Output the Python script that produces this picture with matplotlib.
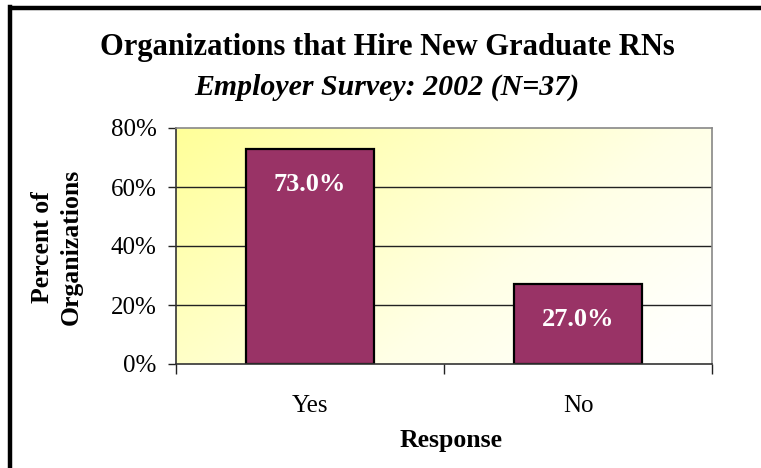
import matplotlib.pyplot as plt
import numpy as np
from matplotlib.colors import LinearSegmentedColormap

plt.rcParams['font.family'] = ['Liberation Serif', 'DejaVu Serif']

# data
responses = ["Yes", "No"]
percents = [73.0, 27.0]
yticks = [0, 20, 40, 60, 80]

fig = plt.figure(figsize=(7.61, 4.68), dpi=100)
fig.patch.set_facecolor("white")

# frame (only top and left edges visible in the crop)
fig.add_artist(plt.Line2D([10.5/761, 1], [1 - 8/468, 1 - 8/468], color="black", lw=3.2, transform=fig.transFigure))
fig.add_artist(plt.Line2D([10/761, 10/761], [0, 1 - 6.5/468], color="black", lw=3.2, transform=fig.transFigure))

ax = fig.add_axes([176/761, 104/468, 536/761, 236/468])

x = np.arange(len(responses))

# background gradient: yellow left/top-left -> white bottom-right
gx, gy = np.meshgrid(np.linspace(0, 1, 200), np.linspace(0, 1, 200))
g = np.clip(0.7 * gx + 0.4 * gy, 0, 1)
cmap = LinearSegmentedColormap.from_list("bg", ["#FFFF99", "#FFFFC0", "#FFFFE6", "#FFFFFC"])
ax.imshow(g, cmap=cmap, extent=[-0.5, 1.5, 0, 80], aspect="auto", origin="upper", zorder=0)

ax.set_xlim(-0.5, 1.5)
ax.set_ylim(0, 80)

for yv in yticks[1:-1]:
    ax.axhline(yv, color="#222222", lw=1.0, zorder=1)

bars = ax.bar(x, percents, width=0.48, color="#993366", edgecolor="black", lw=1.6, zorder=2)

for xi, p in zip(x, percents):
    ax.text(xi, p - 12, f"{p:.1f}%", ha="center", va="center", color="white",
            fontsize=19, fontweight="bold", zorder=3)

ax.set_yticks(yticks)
ax.set_yticklabels([f"{v}%" for v in yticks], fontsize=18)
ax.tick_params(axis="y", length=6, width=1, pad=8, direction="out", colors="#222222", labelcolor="black")

ax.set_xticks(x)
ax.set_xticklabels(responses, fontsize=18)
ax.set_xticks([-0.5, 0.5, 1.5], minor=True)
ax.tick_params(axis="x", which="major", length=0, pad=22)
ax.tick_params(axis="x", which="minor", length=7, width=1, direction="out", colors="#222222")

for s in ["top", "right"]:
    ax.spines[s].set_color("#888888")
    ax.spines[s].set_linewidth(1.2)
for s in ["left", "bottom"]:
    ax.spines[s].set_color("#333333")
    ax.spines[s].set_linewidth(1.2)

fig.text(387/761, 1 - 47/468, "Organizations that Hire New Graduate RNs",
         ha="center", va="center", fontsize=22, fontweight="bold")
fig.text(387/761, 1 - 87/468, "Employer Survey: 2002 (N=37)",
         ha="center", va="center", fontsize=21.5, fontweight="bold", style="italic")
fig.text(57/761, 1 - 247/468, "Percent of\nOrganizations", rotation=90,
         ha="center", va="center", fontsize=18.5, fontweight="bold", linespacing=1.35)
fig.text(451/761, 1 - 440/468, "Response", ha="center", va="center",
         fontsize=18.5, fontweight="bold")

fig.savefig("out.png", dpi=100)
